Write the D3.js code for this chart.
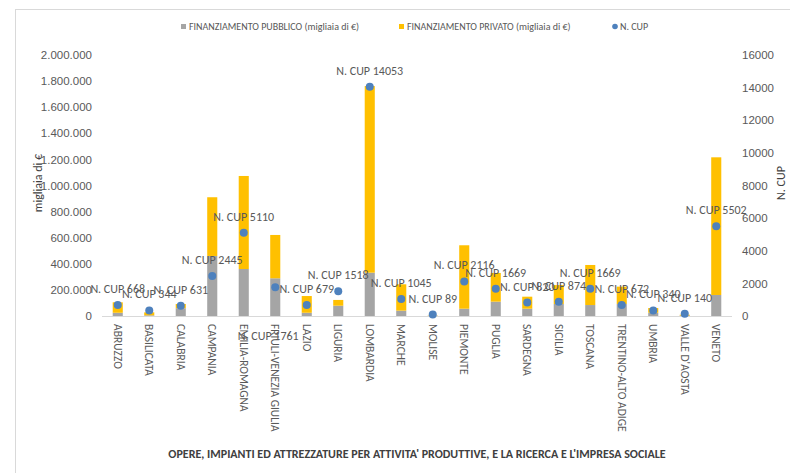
<!DOCTYPE html>
<html><head><meta charset="utf-8">
<script src="https://cdn.jsdelivr.net/npm/d3@7"></script>
<style>
html,body{margin:0;padding:0;background:#fff;}
svg{display:block;font-family:Carlito,"Liberation Sans Narrow","Liberation Sans",Arial,sans-serif;}
</style></head>
<body>
<svg id="chart" width="790" height="473"></svg>
<script>
const categories = ["ABRUZZO","BASILICATA","CALABRIA","CAMPANIA","EMILIA-ROMAGNA","FRIULI-VENEZIA GIULIA","LAZIO","LIGURIA","LOMBARDIA","MARCHE","MOLISE","PIEMONTE","PUGLIA","SARDEGNA","SICILIA","TOSCANA","TRENTINO-ALTO ADIGE","UMBRIA","VALLE D'AOSTA","VENETO"];
const pubblico = [25000, 5000, 60000, 460000, 360000, 289000, 25000, 79000, 332000, 41000, 2000, 56000, 110000, 56000, 92000, 84000, 92000, 25000, 3000, 161000];
const privato  = [80000, 23000, 32000, 450000, 713000, 332000, 128000, 44000, 1430000, 202000, 2000, 486000, 220000, 92000, 145000, 307000, 133000, 36000, 7000, 1055000];
const nCup     = [668, 344, 631, 2445, 5110, 1761, 679, 1518, 14053, 1045, 89, 2116, 1669, 820, 874, 1669, 672, 340, 140, 5502];
const labelBelow = ["FRIULI-VENEZIA GIULIA"];
const leftTicks  = [0, 200000, 400000, 600000, 800000, 1000000, 1200000, 1400000, 1600000, 1800000, 2000000];
const rightTicks = [0, 2000, 4000, 6000, 8000, 10000, 12000, 14000, 16000];
const seriesNames = ["FINANZIAMENTO  PUBBLICO (migliaia di €)", "FINANZIAMENTO  PRIVATO (migliaia di €)", "N. CUP"];
const title = "OPERE, IMPIANTI ED ATTREZZATURE PER ATTIVITA' PRODUTTIVE, E LA RICERCA E L'IMPRESA SOCIALE";

const colGray = "#A5A5A5", colGold = "#FFC000", colBlue = "#4E81BD", txt = "#595959";
const svg = d3.select("#chart");

// frame
svg.append("line").attr("x1",15).attr("x2",790).attr("y1",9.5).attr("y2",9.5).attr("stroke","#d9d9d9");
svg.append("line").attr("x1",15.5).attr("x2",15.5).attr("y1",9).attr("y2",473).attr("stroke","#d9d9d9");

const x0 = 102, x1 = 732, yTop = 55, yBase = 316;
const x = d3.scaleBand().domain(categories).range([x0, x1]).paddingInner(0.68).paddingOuter(0.34);
const yL = d3.scaleLinear().domain([0, 2000000]).range([yBase, yTop]);
const yR = d3.scaleLinear().domain([0, 16000]).range([yBase, yTop]);
const fmt = d => d3.format(",")(d).replace(/,/g, ".");

// left axis
const gl = svg.append("g").attr("transform",`translate(${x0},0)`)
  .call(d3.axisLeft(yL).tickValues(leftTicks).tickFormat(fmt).tickSize(0).tickPadding(10));
gl.select(".domain").remove();
gl.selectAll("text").attr("fill",txt).style("font-size","11.5px");

// right axis
const gr = svg.append("g").attr("transform",`translate(${x1},0)`)
  .call(d3.axisRight(yR).tickValues(rightTicks).tickFormat(d3.format("d")).tickSize(0).tickPadding(10));
gr.select(".domain").remove();
gr.selectAll("text").attr("fill",txt).style("font-size","11.5px");

// baseline
svg.append("line").attr("x1",x0).attr("x2",x1).attr("y1",yBase+0.5).attr("y2",yBase+0.5).attr("stroke","#d9d9d9");

// bars
const stacked = categories.map((c,i)=>({c, p:pubblico[i], q:privato[i]}));
svg.append("g").selectAll("rect.pub").data(stacked).join("rect")
  .attr("x",d=>x(d.c)).attr("width",x.bandwidth())
  .attr("y",d=>yL(d.p)).attr("height",d=>yL(0)-yL(d.p)).attr("fill",colGray);
svg.append("g").selectAll("rect.pri").data(stacked).join("rect")
  .attr("x",d=>x(d.c)).attr("width",x.bandwidth())
  .attr("y",d=>yL(d.p+d.q)).attr("height",d=>yL(d.p)-yL(d.p+d.q)).attr("fill",colGold);

// dots
const pts = categories.map((c,i)=>({c, v:nCup[i]}));
svg.append("g").selectAll("circle").data(pts).join("circle")
  .attr("cx",d=>x(d.c)+x.bandwidth()/2).attr("cy",d=>yR(d.v)).attr("r",4).attr("fill",colBlue);

// data labels
svg.append("g").selectAll("text").data(pts).join("text")
  .attr("x",d=>x(d.c)+x.bandwidth()/2 + (labelBelow.includes(d.c)?-7:0))
  .attr("y",d=>yR(d.v) + (labelBelow.includes(d.c)?53:-12))
  .attr("text-anchor","middle").attr("fill",txt).style("font-size","12px")
  .text(d=>"N. CUP " + d.v);

// category labels
svg.append("g").selectAll("text").data(categories).join("text")
  .attr("transform",d=>`translate(${x(d)+x.bandwidth()/2-4},${yBase+8}) rotate(90)`)
  .attr("fill",txt).style("font-size","11.5px").text(d=>d);

// axis titles
svg.append("text").attr("transform",`translate(42,183) rotate(-90)`).attr("text-anchor","middle")
  .attr("fill","#404040").style("font-size","12px").text("migliaia di €");
svg.append("text").attr("transform",`translate(785,183) rotate(-90)`).attr("text-anchor","middle")
  .attr("fill","#404040").style("font-size","12px").text("N. CUP");

// legend
const lg = svg.append("g").style("font-size","10px");
lg.append("rect").attr("x",181).attr("y",24).attr("width",5).attr("height",5).attr("fill",colGray);
lg.append("text").attr("x",189).attr("y",30).attr("fill",txt).text(seriesNames[0]);
lg.append("rect").attr("x",399).attr("y",24).attr("width",5).attr("height",5).attr("fill",colGold);
lg.append("text").attr("x",407).attr("y",30).attr("fill",txt).text(seriesNames[1]);
lg.append("circle").attr("cx",615).attr("cy",26.5).attr("r",2.8).attr("fill",colBlue);
lg.append("text").attr("x",620).attr("y",30).attr("fill",txt).text(seriesNames[2]);

// bottom title
svg.append("text").attr("x",417).attr("y",458).attr("text-anchor","middle")
  .attr("fill","#404040").style("font-size","12px").style("font-weight","bold").text(title);
</script>
</body></html>
